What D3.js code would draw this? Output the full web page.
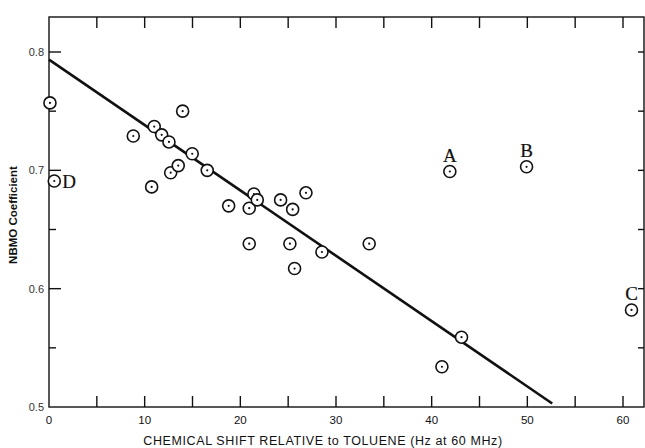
<!DOCTYPE html>
<html>
<head>
<meta charset="utf-8">
<script src="https://cdn.jsdelivr.net/npm/d3@7/dist/d3.min.js"></script>
<style>
html,body{margin:0;padding:0;background:#fff;}
svg{display:block;}
</style>
</head>
<body>
<svg id="chart" width="645" height="448"></svg>
<script>
// Data
const shiftHz = [0.1, 0.55, 8.81, 10.73, 11.0, 11.78, 12.54, 12.72, 13.51, 13.97, 14.97, 16.54,
  18.78, 20.93, 20.93, 21.42, 21.77, 24.21, 25.47, 25.18, 25.67, 26.86, 28.53, 33.47, 41.07, 43.12,
  41.9, 49.92, 60.89];
const nbmo = [0.757, 0.691, 0.729, 0.686, 0.737, 0.730, 0.724, 0.698, 0.704, 0.750, 0.714, 0.700,
  0.670, 0.668, 0.638, 0.680, 0.675, 0.675, 0.667, 0.638, 0.617, 0.681, 0.631, 0.638, 0.534, 0.559,
  0.699, 0.703, 0.582];
const pointLabels = ["", "D", "", "", "", "", "", "", "", "", "", "", "", "", "", "", "", "", "", "", "", "", "", "", "", "", "A", "B", "C"];
const fitX = [0, 52.6];
const fitY = [0.7935, 0.503];
const xTickLabels = [0, 10, 20, 30, 40, 50, 60];
const xTicks = [5, 10, 15, 20, 25, 30, 35, 40, 45, 50, 55, 60];
const yTickLabels = [0.5, 0.6, 0.7, 0.8];
const yTicks = [0.55, 0.6, 0.65, 0.7, 0.75, 0.8];
const xTitle = "CHEMICAL SHIFT RELATIVE to TOLUENE (Hz at 60 MHz)";
const yTitle = "NBMO Coefficient";

(function () {
const svg = d3.select("#chart");
const L = 49, R = 644, T = 17, B = 407;
const x = d3.scaleLinear().domain([0, 60]).range([49, 623]);
const y = d3.scaleLinear().domain([0.5, 0.8]).range([407, 52]);

const ink = "#111";
svg.append("rect").attr("x", L).attr("y", T).attr("width", R - L).attr("height", B - T)
  .attr("fill", "none").attr("stroke", ink).attr("stroke-width", 1.4);

const g = svg.append("g").attr("stroke", ink).attr("stroke-width", 1.4);
xTicks.forEach(t => {
  g.append("line").attr("x1", x(t)).attr("x2", x(t)).attr("y1", B).attr("y2", B - 11);
  g.append("line").attr("x1", x(t)).attr("x2", x(t)).attr("y1", T).attr("y2", T + 11);
});
yTicks.forEach(t => {
  const major = Math.abs(t * 10 - Math.round(t * 10)) < 1e-6;
  g.append("line").attr("x1", L).attr("x2", L + (major ? 12 : 7)).attr("y1", y(t)).attr("y2", y(t));
  g.append("line").attr("x1", R).attr("x2", R - 6).attr("y1", y(t)).attr("y2", y(t));
});

const fontSans = "'Liberation Sans', Arial, sans-serif";
svg.append("g").selectAll("text").data(xTickLabels).join("text")
  .attr("x", d => x(d)).attr("y", 424).attr("text-anchor", "middle")
  .attr("font-family", fontSans).attr("font-size", 11.5).attr("fill", ink)
  .text(d => d);
svg.append("g").selectAll("text").data(yTickLabels).join("text")
  .attr("x", 44).attr("y", d => y(d) + 4).attr("text-anchor", "end")
  .attr("font-family", fontSans).attr("font-size", 11).attr("fill", "#333")
  .text(d => d.toFixed(1));

svg.append("text").attr("x", 323).attr("y", 445).attr("text-anchor", "middle")
  .attr("font-family", fontSans).attr("font-size", 12.5).attr("letter-spacing", 0.6).attr("fill", ink)
  .text(xTitle);
svg.append("text").attr("transform", "translate(17,215) rotate(-90)").attr("text-anchor", "middle")
  .attr("font-family", fontSans).attr("font-size", 11.5).attr("font-weight", "bold").attr("fill", ink)
  .text(yTitle);

svg.append("path")
  .attr("d", d3.line().x(d => x(d[0])).y(d => y(d[1]))(d3.zip(fitX, fitY)))
  .attr("fill", "none").attr("stroke", ink).attr("stroke-width", 2.6);

const pts = d3.zip(shiftHz, nbmo, pointLabels);
const pg = svg.append("g");
pg.selectAll("circle.o").data(pts).join("circle").attr("class", "o")
  .attr("cx", d => x(d[0])).attr("cy", d => y(d[1])).attr("r", 6)
  .attr("fill", "#fff").attr("stroke", ink).attr("stroke-width", 1.6);
pg.selectAll("circle.c").data(pts).join("circle").attr("class", "c")
  .attr("cx", d => x(d[0])).attr("cy", d => y(d[1])).attr("r", 1.1).attr("fill", ink);

const labOff = {A: [0, -10], B: [0, -10], C: [0, -10], D: [8, 7]};
pg.selectAll("text").data(pts.filter(d => d[2])).join("text")
  .attr("x", d => x(d[0]) + labOff[d[2]][0])
  .attr("y", d => y(d[1]) + labOff[d[2]][1])
  .attr("text-anchor", d => d[2] === "D" ? "start" : "middle")
  .attr("font-family", "'Liberation Serif', 'DejaVu Serif', serif").attr("font-size", 19)
  .attr("fill", ink).attr("stroke", ink).attr("stroke-width", 0.2)
  .text(d => d[2]);
})();
</script>
</body>
</html>
